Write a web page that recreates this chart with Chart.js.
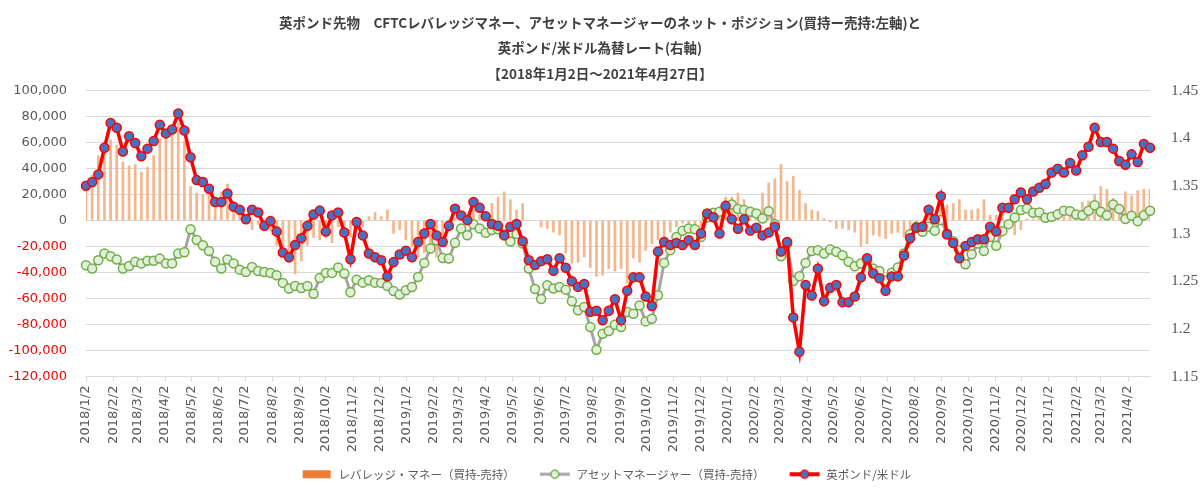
<!DOCTYPE html>
<html lang="ja">
<head>
<meta charset="UTF-8">
<title>英ポンド先物 CFTC ネット・ポジション</title>
<script src="https://cdn.jsdelivr.net/npm/chart.js@4.4.1/dist/chart.umd.min.js"></script>
<style>
  html, body { margin: 0; padding: 0; background: #ffffff; }
  #wrap { width: 1200px; height: 497px; }
</style>
</head>
<body>
<div id="wrap"><canvas id="grafico" width="1200" height="497"></canvas></div>
<script>
// 週次データ（毎週火曜日） 2018/1/2 ～ 2021/4/27
const inicio = '2018/1/2';
const numSemanas = 174;

// 月ごとの目盛りラベル
const etiquetasMes = [
  '2018/1/2','2018/2/2','2018/3/2','2018/4/2','2018/5/2','2018/6/2','2018/7/2','2018/8/2','2018/9/2','2018/10/2','2018/11/2','2018/12/2',
  '2019/1/2','2019/2/2','2019/3/2','2019/4/2','2019/5/2','2019/6/2','2019/7/2','2019/8/2','2019/9/2','2019/10/2','2019/11/2','2019/12/2',
  '2020/1/2','2020/2/2','2020/3/2','2020/4/2','2020/5/2','2020/6/2','2020/7/2','2020/8/2','2020/9/2','2020/10/2','2020/11/2','2020/12/2',
  '2021/1/2','2021/2/2','2021/3/2','2021/4/2'
];

// レバレッジ・マネー（買持-売持）
const leveraged = [
  23000, 35000, 50000, 55000, 62000, 58000, 45000, 42000, 43000, 37000,
  41000, 50000, 63000, 65000, 70000, 75000, 61000, 26000, 21000, 20000,
  24000, 15000, 22000, 28000, 12000, 7000, 0, -7000, -3000, -5000,
  -8000, -19000, -20000, -32000, -41000, -31000, -19000, -13000, -15000, -13000,
  -17000, -5000, -7000, -13000, -5000, -5000, 3000, 6000, 3000, 8000,
  -10000, -7000, -15000, -20000, -28000, -25000, -20000, -28000, -15000, -6000,
  2000, 3000, 5000, 8000, 5000, 3000, 13000, 18000, 22000, 16000,
  8000, 13000, 0, 0, -5000, -6000, -9000, -11000, -25000, -33000,
  -32000, -28000, -36000, -43000, -42000, -37000, -39000, -37000, -48000, -29000,
  -32000, -23000, -18000, -15000, -13000, -9000, -5000, -2000, -5000, -4000,
  -5000, 3000, 7000, 8000, 18000, 18000, 21000, 16000, 7000, 5000,
  21000, 29000, 32000, 43000, 30000, 34000, 23000, 13000, 8000, 7000,
  1500, -1000, -6000, -6000, -7000, -9000, -20000, -18000, -11000, -12000,
  -14000, -10000, -9000, -13000, -20000, -5000, -8000, 5000, -3000, 13000,
  12000, 13000, 16000, 8000, 8000, 9000, 16000, 4000, 4000, 8000,
  -5000, -11000, -7000, 1000, 1000, 2000, 3000, 2000, 3000, 4000,
  3000, 5000, 14000, 15000, 20000, 26000, 24000, 17000, 10000, 22000,
  19000, 23000, 24000, 24000
];

// アセットマネージャー（買持-売持）
const assetMgr = [
  -34400, -37000, -30600, -25400, -27500, -30000, -37000, -35000, -31800, -33000,
  -31000, -31000, -29300, -33000, -33000, -25400, -24400, -6700, -15000, -19000,
  -23400, -31800, -37000, -30000, -33000, -37800, -39600, -35700, -38800, -39600,
  -40300, -42100, -48000, -52400, -50300, -51900, -50300, -56300, -44200, -40300,
  -40300, -36200, -40800, -55200, -45500, -47800, -46000, -47800, -48000, -50300,
  -54200, -57000, -53700, -51100, -43400, -32600, -21600, -15100, -28800, -29300,
  -17200, -6100, -11300, -2800, -6100, -9500, -7400, -6700, -10500, -16200,
  -10300, -17700, -37000, -52700, -60400, -49800, -52400, -51100, -53200, -62200,
  -69100, -66500, -82000, -99400, -87100, -85000, -80200, -82000, -70400, -71700,
  -65300, -77600, -75600, -57500, -32600, -22800, -12600, -7900, -6100, -6700,
  -12600, 2300, 5900, 6700, 9800, 12400, 8800, 8000, 6700, 5400,
  1600, 7200, -2800, -27500, -17700, -46500, -42900, -32600, -23400, -22800,
  -25400, -22300, -24100, -26700, -31800, -35200, -33100, -30600, -37000, -38800,
  -46000, -40100, -36200, -25400, -10500, -4900, -8700, -4900, -7900, 300,
  -10000, -15900, -22800, -33600, -25900, -17700, -23400, -12600, -19500, -8200,
  -2800, 2300, 8000, 9300, 5900, 6200, 2100, 2900, 4900, 7500,
  7200, 4600, 4100, 7500, 11800, 6700, 4100, 12400, 8800, 1100,
  3600, -500, 4100, 7500
];

// 英ポンド/米ドル（右軸）
const gbpusd = [
  1.350, 1.354, 1.362, 1.390, 1.416, 1.411, 1.386, 1.402, 1.395, 1.381,
  1.389, 1.397, 1.414, 1.405, 1.409, 1.426, 1.408, 1.380, 1.356, 1.354,
  1.347, 1.333, 1.333, 1.342, 1.328, 1.325, 1.315, 1.325, 1.322, 1.308,
  1.313, 1.302, 1.280, 1.275, 1.288, 1.295, 1.308, 1.320, 1.324, 1.302,
  1.319, 1.322, 1.301, 1.273, 1.312, 1.298, 1.279, 1.275, 1.272, 1.255,
  1.270, 1.278, 1.282, 1.275, 1.291, 1.300, 1.310, 1.298, 1.291, 1.308,
  1.326, 1.319, 1.314, 1.333, 1.327, 1.318, 1.310, 1.308, 1.298, 1.307,
  1.310, 1.292, 1.272, 1.267, 1.271, 1.273, 1.261, 1.274, 1.264, 1.250,
  1.244, 1.247, 1.218, 1.219, 1.209, 1.219, 1.231, 1.209, 1.240, 1.254,
  1.254, 1.234, 1.224, 1.281, 1.291, 1.288, 1.290, 1.288, 1.293, 1.288,
  1.300, 1.321, 1.317, 1.300, 1.329, 1.315, 1.305, 1.315, 1.303, 1.306,
  1.298, 1.301, 1.307, 1.281, 1.291, 1.212, 1.176, 1.246, 1.235, 1.263,
  1.229, 1.243, 1.246, 1.228, 1.228, 1.234, 1.254, 1.274, 1.258, 1.253,
  1.240, 1.255, 1.255, 1.277, 1.295, 1.306, 1.307, 1.325, 1.315, 1.339,
  1.299, 1.290, 1.274, 1.287, 1.291, 1.294, 1.294, 1.307, 1.302, 1.327,
  1.327, 1.336, 1.343, 1.336, 1.344, 1.348, 1.352, 1.364, 1.368, 1.364,
  1.374, 1.366, 1.382, 1.391, 1.411, 1.396, 1.396, 1.389, 1.376, 1.372,
  1.383, 1.375, 1.394, 1.390
];

// 日付 → 2018/1/2 からの経過日数
function diasDesde(str) {
  const [a, m, d] = str.split('/').map(Number);
  const [a0, m0, d0] = inicio.split('/').map(Number);
  return (Date.UTC(a, m - 1, d) - Date.UTC(a0, m0 - 1, d0)) / 86400000;
}

const dias = [];
for (let i = 0; i < numSemanas; i++) dias.push(i * 7);
const tickDias = etiquetasMes.map(diasDesde);

const pontos = arr => arr.map((v, i) => ({ x: dias[i], y: v }));

// 凡例アイコン（左側の余白で項目間の間隔をとる）
const margemIcone = 12;
function icone(tipo) {
  const c = document.createElement('canvas');
  c.width = 32 + margemIcone; c.height = 12;
  const g = c.getContext('2d');
  g.translate(margemIcone, 0);
  if (tipo === 'bar') {
    g.fillStyle = '#ED7D31';
    g.fillRect(2, 2, 28, 8);
  } else {
    g.strokeStyle = tipo === 'asset' ? '#A5A5A5' : '#FF0000';
    g.lineWidth = tipo === 'asset' ? 3 : 4;
    g.beginPath(); g.moveTo(1, 6); g.lineTo(31, 6); g.stroke();
    g.beginPath(); g.arc(16, 6, 4, 0, Math.PI * 2);
    g.fillStyle = tipo === 'asset' ? '#E2EFDA' : '#4472C4';
    g.fill();
    g.lineWidth = 1.5;
    g.strokeStyle = tipo === 'asset' ? '#70AD47' : '#FF0000';
    g.stroke();
  }
  return c;
}

const ctx = document.getElementById('grafico').getContext('2d');
new Chart(ctx, {
  type: 'bar',
  data: {
    datasets: [
      {
        type: 'line',
        label: '英ポンド/米ドル',
        data: pontos(gbpusd),
        yAxisID: 'y1',
        borderColor: '#FF0000',
        borderWidth: 3.5,
        pointRadius: 4.5,
        pointBackgroundColor: '#4472C4',
        pointBorderColor: '#FF0000',
        pointBorderWidth: 1.5,
        tension: 0,
        clip: 8,
        order: 1
      },
      {
        type: 'line',
        label: 'アセットマネージャー（買持-売持）',
        data: pontos(assetMgr),
        yAxisID: 'y',
        borderColor: '#A5A5A5',
        borderWidth: 3,
        pointRadius: 4.5,
        pointBackgroundColor: '#E2EFDA',
        pointBorderColor: '#70AD47',
        pointBorderWidth: 1.5,
        tension: 0,
        clip: 8,
        order: 2
      },
      {
        type: 'bar',
        label: 'レバレッジ・マネー（買持-売持）',
        data: pontos(leveraged),
        yAxisID: 'y',
        backgroundColor: '#F5B68C',
        barThickness: 2,
        order: 3
      }
    ]
  },
  options: {
    responsive: false,
    devicePixelRatio: 1,
    animation: false,
    layout: { autoPadding: false, padding: { left: 0, right: 0, top: 0, bottom: 7 } },
    plugins: {
      tooltip: { enabled: false },
      title: {
        display: true,
        text: [
          '英ポンド先物　CFTCレバレッジマネー、アセットマネージャーのネット・ポジション(買持ー売持:左軸)と',
          '英ポンド/米ドル為替レート(右軸)',
          '【2018年1月2日～2021年4月27日】'
        ],
        color: '#404040',
        font: { family: '"Noto Sans CJK JP", sans-serif', size: 13.5, weight: 'bold', lineHeight: '25.5px' },
        padding: { top: 10, bottom: 4 }
      },
      legend: {
        position: 'bottom',
        labels: {
          usePointStyle: true,
          pointStyleWidth: 32 + margemIcone,
          padding: 12,
          color: '#595959',
          font: { family: '"Noto Sans CJK JP", sans-serif', size: 11.5 },
          generateLabels: () => [
            { text: 'レバレッジ・マネー（買持-売持）', pointStyle: icone('bar'), datasetIndex: 2, hidden: false, fontColor: '#595959', lineWidth: 0 },
            { text: 'アセットマネージャー（買持-売持）', pointStyle: icone('asset'), datasetIndex: 1, hidden: false, fontColor: '#595959', lineWidth: 0 },
            { text: '英ポンド/米ドル', pointStyle: icone('gbp'), datasetIndex: 0, hidden: false, fontColor: '#595959', lineWidth: 0 }
          ]
        }
      }
    },
    scales: {
      x: {
        type: 'linear',
        min: 0,
        max: dias[dias.length - 1],
        offset: false,
        afterBuildTicks: s => { s.ticks = tickDias.map(v => ({ value: v })); },
        afterFit: s => { s.height = 80; },
        ticks: {
          autoSkip: false,
          minRotation: 90,
          maxRotation: 90,
          padding: 4,
          color: '#595959',
          font: { family: '"DejaVu Sans", sans-serif', size: 13 },
          callback: (v, i) => etiquetasMes[i]
        },
        grid: { drawOnChartArea: false, drawTicks: true, tickLength: 5, color: '#D9D9D9', offset: false },
        border: { color: '#D9D9D9' }
      },
      y: {
        position: 'left',
        min: -120000,
        max: 100000,
        afterFit: s => { s.width = 86; },
        ticks: {
          stepSize: 20000,
          padding: 19,
          font: { family: '"DejaVu Sans", sans-serif', size: 13 },
          color: c => c.tick.value < 0 ? '#FF0000' : '#595959',
          callback: v => v.toLocaleString('en-US')
        },
        grid: { color: '#D9D9D9', drawTicks: false },
        border: { display: false }
      },
      y1: {
        position: 'right',
        min: 1.15,
        max: 1.45,
        afterFit: s => { s.width = 50; },
        ticks: {
          stepSize: 0.05,
          padding: 13,
          color: '#595959',
          font: { family: '"Liberation Serif", serif', size: 15.5 },
          callback: v => String(parseFloat(v.toFixed(2)))
        },
        grid: { display: false },
        border: { display: false }
      }
    }
  }
});
</script>
</body>
</html>
